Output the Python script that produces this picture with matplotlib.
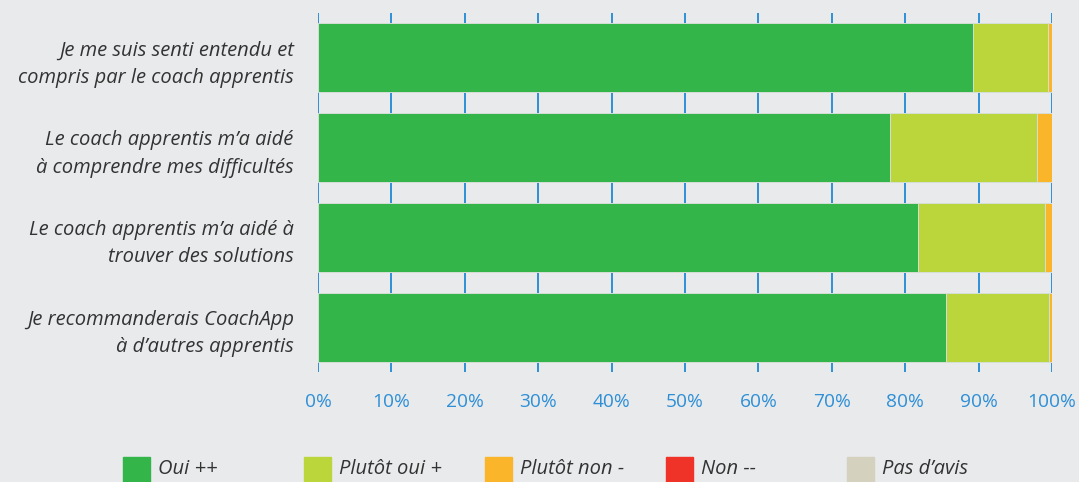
import matplotlib
matplotlib.use("Agg")
import matplotlib.pyplot as plt
from matplotlib.patches import Rectangle
import numpy as np

plt.rcParams['font.family'] = ['Open Sans', 'DejaVu Sans']

# data (percent of answers)
questions = [
    "Je me suis senti entendu et\ncompris par le coach apprentis",
    "Le coach apprentis m\u2019a aidé\nà comprendre mes difficultés",
    "Le coach apprentis m\u2019a aidé à\ntrouver des solutions",
    "Je recommanderais CoachApp\nà d\u2019autres apprentis",
]
oui = [89.2, 77.9, 81.7, 85.5]
plutot_oui = [10.3, 20.1, 17.3, 14.1]
plutot_non = [0.5, 2.0, 1.0, 0.4]
non = [0, 0, 0, 0]
pas_avis = [0, 0, 0, 0]

series_names = ["Oui ++", "Plutôt oui +", "Plutôt non -", "Non --", "Pas d\u2019avis"]
series_colors = ["#33b54a", "#bbd63a", "#fbb52b", "#ef3329", "#d4d2bf"]
xticks = [0, 10, 20, 30, 40, 50, 60, 70, 80, 90, 100]

bg = "#e8eaec"
blue = "#2e8fd6"
txt = "#333333"

fig = plt.figure(figsize=(10.79, 4.82), dpi=100, facecolor=bg)
ax = fig.add_axes([318 / 1079, 1 - 372 / 482, 734 / 1079, 359 / 482])
ax.set_facecolor(bg)

y = np.arange(len(questions))
left = np.zeros(len(questions))
for vals, col in zip([oui, plutot_oui, plutot_non, non, pas_avis], series_colors):
    vals = np.array(vals)
    ax.barh(y, vals, left=left, height=0.767, color=col,
            edgecolor="#d6ded6", linewidth=0.7, zorder=2)
    left += vals

ax.set_xlim(0, 100)
ax.set_ylim(len(questions) - 0.5, -0.5)
ax.set_xticks(xticks)
ax.set_xticklabels([f"{t}%" for t in xticks], color=blue, fontsize=13.8)
ax.set_yticks(y)
ax.set_yticklabels(questions, style="italic", color=txt, fontsize=14.5,
                   linespacing=1.5)
ax.tick_params(axis="x", length=0, pad=15)
ax.tick_params(axis="y", length=0, pad=17.5)
ax.grid(axis="x", color=blue, linewidth=1.4, zorder=0)
ax.set_axisbelow(True)
for s in ax.spines.values():
    s.set_visible(False)

# legend drawn by hand
for i, (name, col) in enumerate(zip(series_names, series_colors)):
    x0 = (123 + i * 181) / 1079
    fig.add_artist(Rectangle((x0, 0), 27 / 1079, (482 - 457) / 482,
                             transform=fig.transFigure, color=col))
    fig.text(x0 + 35 / 1079, 1 - 469 / 482, name, style="italic",
             color=txt, fontsize=14.5, va="center", ha="left")

fig.savefig("out.png", dpi=100, facecolor=bg)
